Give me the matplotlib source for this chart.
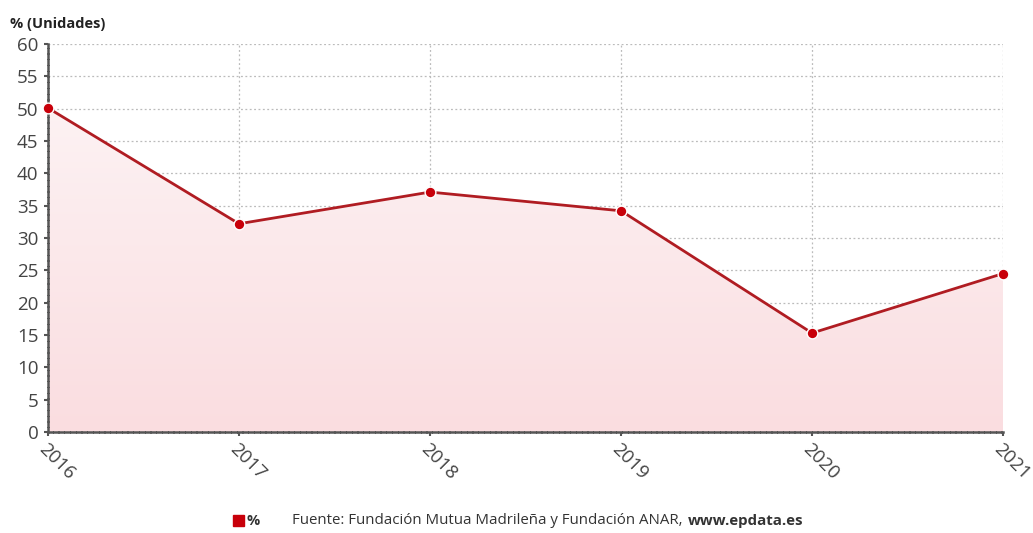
import matplotlib.pyplot as plt
import numpy as np
from matplotlib.patches import Polygon
from matplotlib.colors import LinearSegmentedColormap

plt.rcParams['font.family'] = ['Open Sans', 'DejaVu Sans']

anios = [2016, 2017, 2018, 2019, 2020, 2021]
porcentaje = [50.1, 32.2, 37.1, 34.2, 15.3, 24.5]
rojo = "#b01c22"

fig = plt.figure(figsize=(10.33, 5.33), dpi=100)
ax = fig.add_axes([0.0465, 0.1895, 0.9245, 0.728])

# relleno con degradado bajo la linea
verts = [(anios[0], 0)] + list(zip(anios, porcentaje)) + [(anios[-1], 0)]
poly = Polygon(verts, closed=True, facecolor="none", edgecolor="none")
ax.add_patch(poly)
rosa = LinearSegmentedColormap.from_list("rosa", ["#fadde0", "#fdf6f7"])
grad = np.linspace(0, 1, 256).reshape(-1, 1)
img = ax.imshow(grad, extent=[anios[0], anios[-1], 0, 60], aspect="auto",
                cmap=rosa, origin="lower", zorder=1)
img.set_clip_path(poly)

ax.plot(anios, porcentaje, color=rojo, lw=2, zorder=3)
ax.scatter(anios, porcentaje, s=60, color="#c8000a", edgecolor="white",
           linewidth=1, zorder=4, clip_on=False)

ax.set_xlim(anios[0], anios[-1])
ax.set_ylim(0, 60)
ax.set_yticks(range(0, 61, 5))
ax.set_xticks(anios)
ax.grid(True, color="#bbbbbb", linestyle=(0, (1.5, 2)), lw=0.9)
ax.set_axisbelow(True)

for s in ["top", "right"]:
    ax.spines[s].set_visible(False)
for s in ["left", "bottom"]:
    ax.spines[s].set_color("#555555")
    ax.spines[s].set_linestyle((0, (1.5, 0.8)))
    ax.spines[s].set_linewidth(1.8)
ax.tick_params(axis="both", colors="#555555", labelcolor="#444444",
               labelsize=13.5, length=3, width=1.5)
ax.tick_params(axis="y", pad=4)
ax.tick_params(axis="x", pad=3)
plt.setp(ax.get_xticklabels(), rotation=-45, ha="left", va="top",
         rotation_mode="anchor")

fig.text(0.01, 0.955, "% (Unidades)", fontsize=10.5, fontweight="bold",
         color="#222222", va="center")

# leyenda y fuente
fig.patches.append(plt.Rectangle((0.2255, 0.013), 0.0105, 0.02,
                                 transform=fig.transFigure, color="#c8000a"))
fig.text(0.2385, 0.023, "%", fontsize=10.5, fontweight="bold", color="#333333",
         va="center")
fuente = fig.text(0.2825, 0.023, "Fuente: Fundación Mutua Madrileña y Fundación ANAR,",
                  fontsize=10.8, color="#333333", va="center")
fig.add_artist(plt.Annotation("www.epdata.es", xy=(1, 0.5), xycoords=fuente,
                              xytext=(4, 0), textcoords="offset points",
                              fontsize=10.8, fontweight="bold", color="#333333",
                              va="center"))

fig.savefig("out.png", dpi=100)
